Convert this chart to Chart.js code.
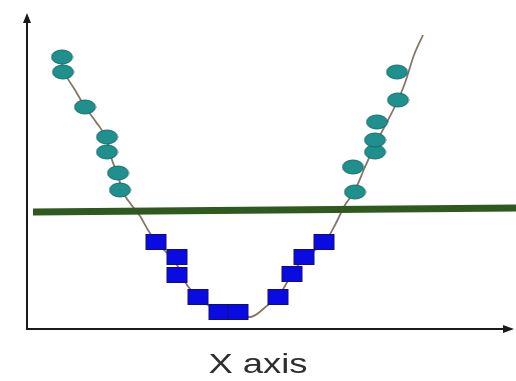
<!DOCTYPE html>
<html>
<head>
<meta charset="utf-8">
<script src="https://cdn.jsdelivr.net/npm/chart.js@4.4.1/dist/chart.umd.min.js"></script>
<style>
  body { margin: 0; background: #fff; }
  #wrap { width: 516px; height: 381px; }
</style>
</head>
<body>
<div id="wrap"><canvas id="chart"></canvas></div>
<script>
const circleX = [62, 63, 85, 107, 107, 118, 120, 355, 353, 375, 375, 377, 398, 397];
const circleY = [272, 257, 222, 192, 177, 156, 139, 137, 162, 177, 189, 207, 229, 257];

const squareX = [156, 177, 177, 198, 219, 238, 278, 292, 304, 324];
const squareY = [87, 72, 54, 32, 17, 17, 32, 55, 72, 87];

const curveX = [58, 66, 75, 85, 96, 107, 112, 118, 122, 130, 140, 148, 156, 166, 177, 187, 198, 208, 220, 238, 250, 268, 278, 292, 304, 315, 325, 335, 345, 355, 365, 375, 387, 398, 405, 414, 423];
const curveY = [278, 254, 239, 222, 207, 189, 169, 154, 139, 126, 113, 99, 87, 77, 64, 44, 32, 24, 17, 14, 12, 24, 32, 55, 71, 79, 87, 104, 124, 139, 162, 184, 207, 229, 246, 274, 294];

const levelX = [33, 516];
const levelY = [117, 121];

const axisLabel = 'X axis';

// arma los puntos {x, y}
function pares(xs, ys) {
  return xs.map((x, i) => ({ x: x, y: ys[i] }));
}

// dibuja una forma en un canvas chico para usarla como pointStyle
function forma(w, h, fill, stroke, tipo) {
  const c = document.createElement('canvas');
  c.width = w + 2; c.height = h + 2;
  const g = c.getContext('2d');
  g.fillStyle = fill;
  g.strokeStyle = stroke;
  g.lineWidth = 1;
  if (tipo === 'elipse') {
    g.beginPath();
    g.ellipse(c.width / 2, c.height / 2, w / 2, h / 2, 0, 0, Math.PI * 2);
    g.fill();
    g.stroke();
  } else {
    g.fillRect(1, 1, w, h);
    g.strokeRect(1.5, 1.5, w - 1, h - 1);
  }
  return c;
}

const circulo = forma(21, 14, '#1f908e', '#176b69', 'elipse');
const cuadrado = forma(21, 16, '#0a0ae2', '#10106e', 'rect');

// ejes con flechas y el texto del eje X
const ejes = {
  id: 'ejes',
  afterDatasetsDraw(chart) {
    const ctx = chart.ctx;
    const sx = chart.scales.x, sy = chart.scales.y;
    const x0 = sx.getPixelForValue(27), y0 = sy.getPixelForValue(0);
    const xTop = sy.getPixelForValue(316), xEnd = sx.getPixelForValue(514);
    ctx.save();
    ctx.strokeStyle = '#1a1a1a';
    ctx.fillStyle = '#1a1a1a';
    ctx.lineWidth = 2;
    ctx.beginPath();
    ctx.moveTo(x0, xTop + 8);
    ctx.lineTo(x0, y0);
    ctx.lineTo(xEnd - 9, y0);
    ctx.stroke();
    // flecha arriba
    ctx.beginPath();
    ctx.moveTo(x0, xTop);
    ctx.lineTo(x0 - 4, xTop + 10);
    ctx.lineTo(x0 + 4, xTop + 10);
    ctx.closePath();
    ctx.fill();
    // flecha derecha
    ctx.beginPath();
    ctx.moveTo(xEnd, y0);
    ctx.lineTo(xEnd - 11, y0 - 4);
    ctx.lineTo(xEnd - 11, y0 + 4);
    ctx.closePath();
    ctx.fill();
    // texto
    ctx.fillStyle = '#2e2e2e';
    ctx.font = '28px "Liberation Sans", Arial, sans-serif';
    ctx.textAlign = 'center';
    ctx.textBaseline = 'alphabetic';
    ctx.translate(sx.getPixelForValue(258), sy.getPixelForValue(-44));
    ctx.scale(1.3, 1);
    ctx.fillText(axisLabel, 0, 0);
    ctx.restore();
  }
};

new Chart(document.getElementById('chart'), {
  type: 'scatter',
  data: {
    datasets: [
      {
        label: 'circulos',
        data: pares(circleX, circleY),
        pointStyle: circulo,
        order: 1
      },
      {
        label: 'cuadrados',
        data: pares(squareX, squareY),
        pointStyle: cuadrado,
        order: 1
      },
      {
        label: 'nivel',
        type: 'line',
        data: pares(levelX, levelY),
        borderColor: '#2e5a1f',
        borderWidth: 7,
        pointRadius: 0,
        order: 2
      },
      {
        label: 'curva',
        type: 'line',
        data: pares(curveX, curveY),
        borderColor: '#857767',
        borderWidth: 1.8,
        pointRadius: 0,
        cubicInterpolationMode: 'monotone',
        order: 3
      }
    ]
  },
  options: {
    responsive: true,
    maintainAspectRatio: false,
    animation: false,
    layout: { padding: 0, autoPadding: false },
    plugins: { legend: { display: false }, tooltip: { enabled: false } },
    scales: {
      x: { type: 'linear', display: false, min: 0, max: 516 },
      y: { type: 'linear', display: false, min: -52, max: 329 }
    }
  },
  plugins: [ejes]
});
</script>
</body>
</html>
